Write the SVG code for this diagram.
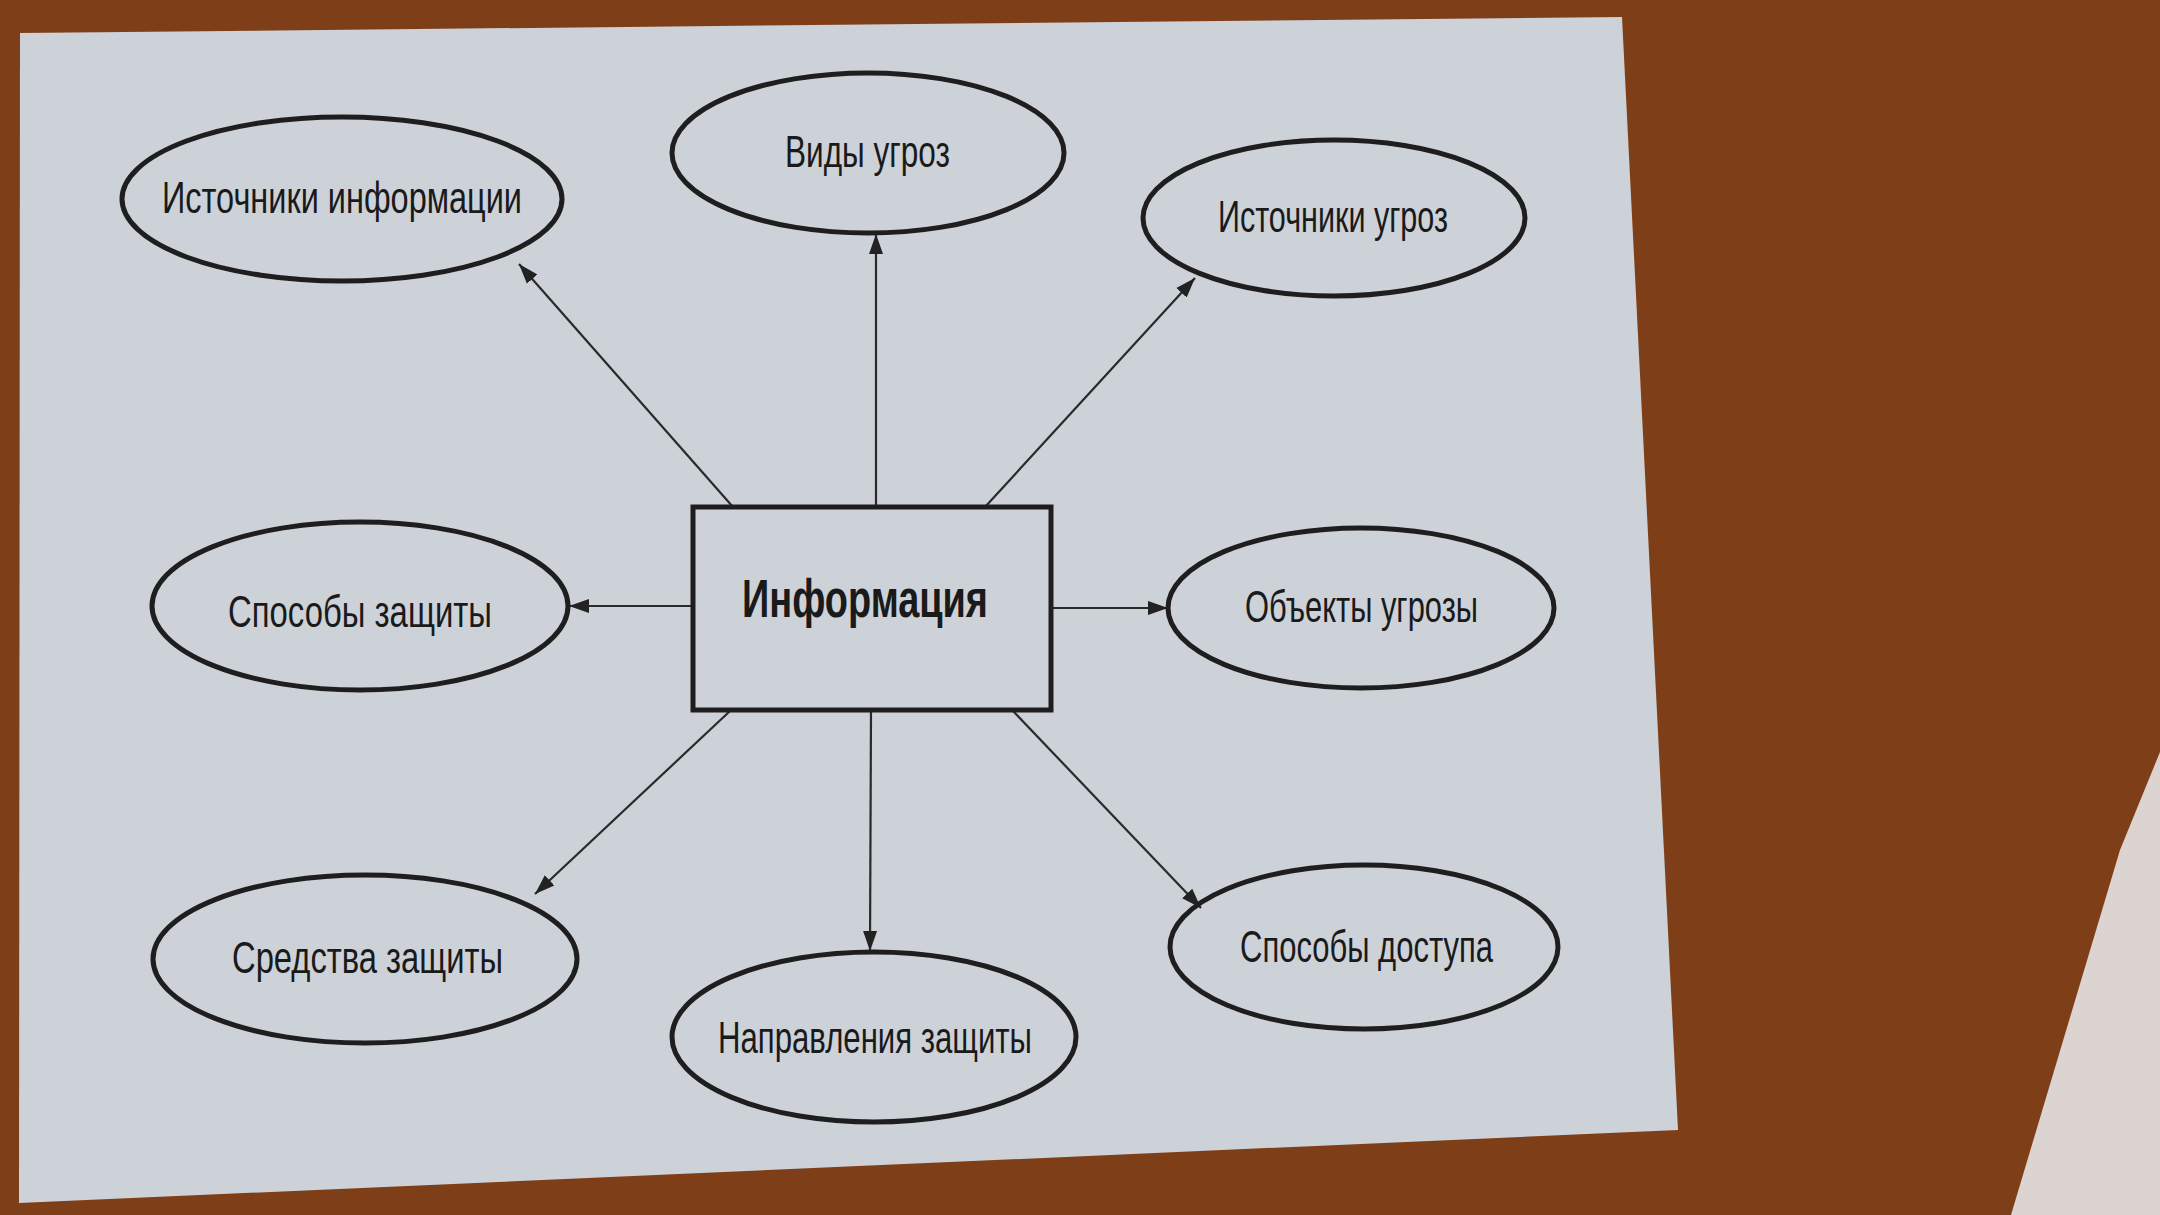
<svg xmlns="http://www.w3.org/2000/svg" width="2160" height="1215" viewBox="0 0 2160 1215">
<defs>
<marker id="arr" markerUnits="userSpaceOnUse" markerWidth="22" markerHeight="16" refX="20" refY="8" orient="auto">
<path d="M0,1 L20,8 L0,15 Z" fill="#222"/>
</marker>
<style>
.n{fill:none;stroke:#1e1e1e;stroke-width:5}
.t{font-family:"Liberation Sans",Arial,sans-serif;font-size:44px;fill:#1a1a1a}
.b{font-weight:bold;font-size:54px}
.c{stroke:#2a2a2a;stroke-width:2.2;fill:none;marker-end:url(#arr)}
</style>
</defs>
<rect x="0" y="0" width="2160" height="1215" fill="#7e3f18"/>
<polygon points="20,33 1622,17 1678,1130 19,1203" fill="#cdd1d8"/>
<polygon points="2160,752 2120,850 2011,1215 2160,1215" fill="#dcd4d0"/>
<g id="connectors">
<line class="c" x1="733" y1="507" x2="519" y2="264"/>
<line class="c" x1="876" y1="507" x2="876" y2="234"/>
<line class="c" x1="985" y1="507" x2="1195" y2="278"/>
<line class="c" x1="693" y1="606" x2="569" y2="606"/>
<line class="c" x1="1051" y1="608" x2="1168" y2="608"/>
<line class="c" x1="730" y1="711" x2="535" y2="894"/>
<line class="c" x1="871" y1="711" x2="870" y2="951"/>
<line class="c" x1="1013" y1="711" x2="1201" y2="908"/>
</g>
<g id="center">
<rect class="n" x="693" y="507" width="358" height="203"/>
<text class="t b" x="742" y="617" textLength="246" lengthAdjust="spacingAndGlyphs">Информация</text>
</g>
<g id="istochniki-informacii">
<ellipse class="n" cx="342" cy="199" rx="220" ry="82"/>
<text class="t" x="162" y="213" textLength="360" lengthAdjust="spacingAndGlyphs">Источники информации</text>
</g>
<g id="vidy-ugroz">
<ellipse class="n" cx="868" cy="153" rx="196" ry="80"/>
<text class="t" x="785" y="167" textLength="165" lengthAdjust="spacingAndGlyphs">Виды угроз</text>
</g>
<g id="istochniki-ugroz">
<ellipse class="n" cx="1334" cy="218" rx="191" ry="78"/>
<text class="t" x="1218" y="232" textLength="230" lengthAdjust="spacingAndGlyphs">Источники угроз</text>
</g>
<g id="sposoby-zashchity">
<ellipse class="n" cx="360" cy="606" rx="208" ry="84"/>
<text class="t" x="228" y="627" textLength="264" lengthAdjust="spacingAndGlyphs">Способы защиты</text>
</g>
<g id="obekty-ugrozy">
<ellipse class="n" cx="1361" cy="608" rx="193" ry="80"/>
<text class="t" x="1245" y="622" textLength="233" lengthAdjust="spacingAndGlyphs">Объекты угрозы</text>
</g>
<g id="sredstva-zashchity">
<ellipse class="n" cx="365" cy="959" rx="212" ry="84"/>
<text class="t" x="232" y="973" textLength="271" lengthAdjust="spacingAndGlyphs">Средства защиты</text>
</g>
<g id="napravleniya-zashchity">
<ellipse class="n" cx="874" cy="1037" rx="202" ry="85"/>
<text class="t" x="718" y="1053" textLength="314" lengthAdjust="spacingAndGlyphs">Направления защиты</text>
</g>
<g id="sposoby-dostupa">
<ellipse class="n" cx="1364" cy="947" rx="194" ry="82"/>
<text class="t" x="1240" y="962" textLength="253" lengthAdjust="spacingAndGlyphs">Способы доступа</text>
</g>
</svg>
